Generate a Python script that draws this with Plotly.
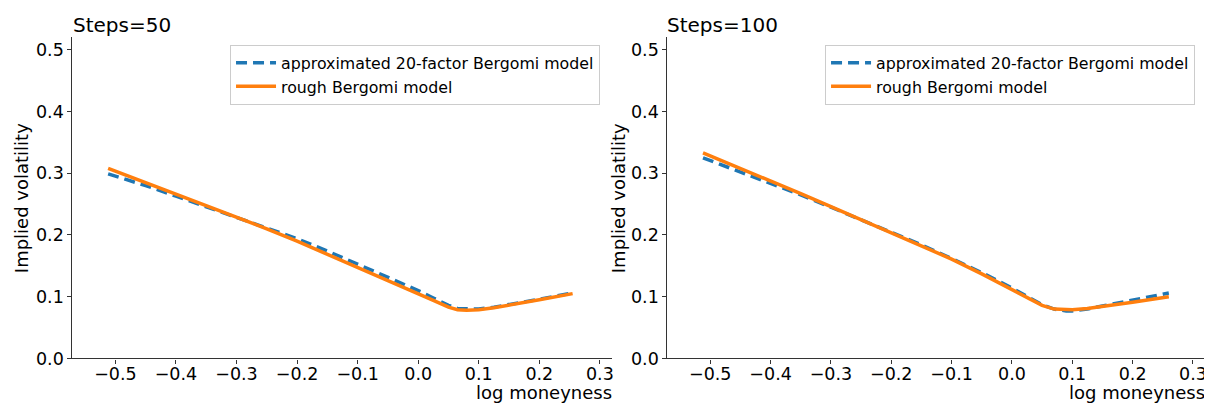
import plotly.graph_objects as go

# ---------------- data ----------------
x_left = [-0.512, -0.45, -0.4, -0.35, -0.3, -0.25, -0.2, -0.15, -0.1, -0.05,
          0.0, 0.025, 0.05, 0.065, 0.08, 0.1, 0.125, 0.15, 0.2, 0.255]
approx_left = [0.299, 0.280, 0.263, 0.246, 0.229, 0.212, 0.194, 0.174, 0.153, 0.132,
               0.110, 0.098, 0.086, 0.081, 0.080, 0.080, 0.083, 0.087, 0.096, 0.106]
rough_left = [0.308, 0.285, 0.267, 0.248, 0.229, 0.210, 0.190, 0.169, 0.148, 0.127,
              0.105, 0.094, 0.083, 0.079, 0.078, 0.079, 0.082, 0.086, 0.095, 0.105]

x_right = [-0.512, -0.45, -0.4, -0.35, -0.3, -0.25, -0.2, -0.15, -0.1, -0.05,
           0.0, 0.025, 0.05, 0.07, 0.09, 0.1, 0.125, 0.15, 0.2, 0.26]
approx_right = [0.325, 0.302, 0.284, 0.265, 0.245, 0.225, 0.205, 0.184, 0.162, 0.139,
                0.114, 0.100, 0.087, 0.080, 0.077, 0.077, 0.080, 0.085, 0.094, 0.106]
rough_right = [0.333, 0.308, 0.288, 0.267, 0.246, 0.225, 0.204, 0.183, 0.161, 0.137,
               0.112, 0.098, 0.086, 0.080, 0.079, 0.079, 0.081, 0.084, 0.091, 0.100]

x_tick_vals = [-0.5, -0.4, -0.3, -0.2, -0.1, 0.0, 0.1, 0.2, 0.3]
x_tick_text = ["\u22120.5", "\u22120.4", "\u22120.3", "\u22120.2", "\u22120.1",
               "0.0", "0.1", "0.2", "0.3"]
y_tick_vals = [0.0, 0.1, 0.2, 0.3, 0.4, 0.5]
y_tick_text = ["0.0", "0.1", "0.2", "0.3", "0.4", "0.5"]

titles = ["Steps=50", "Steps=100"]
name_approx = "approximated 20-factor Bergomi model"
name_rough = "rough Bergomi model"

BLUE = "#1f77b4"
ORANGE = "#ff7f0e"
FONT = "DejaVu Sans"

W, H = 1212, 406


def px(x):
    return x / W


def py(y):
    return 1 - y / H


fig = go.Figure()

panels = [
    (x_left, approx_left, rough_left, "x", "y", "legend"),
    (x_right, approx_right, rough_right, "x2", "y2", "legend2"),
]
for xs, ya, yr, xa, ya_ax, leg in panels:
    fig.add_trace(go.Scatter(x=xs, y=ya, mode="lines", name=name_approx,
                             line=dict(color=BLUE, width=3.5, dash="11px,6px"),
                             xaxis=xa, yaxis=ya_ax, legend=leg))
    fig.add_trace(go.Scatter(x=xs, y=yr, mode="lines", name=name_rough,
                             line=dict(color=ORANGE, width=3.5),
                             xaxis=xa, yaxis=ya_ax, legend=leg))

ydom = [py(359.3), py(30.2)]
xdom1 = [px(64.5), px(605)]
xdom2 = [px(660.5), px(1199)]

axis_common = dict(showline=True, linecolor="#333333", linewidth=1.2, mirror=False,
                   showgrid=False, zeroline=False, ticks="outside", ticklen=4,
                   tickwidth=1.2, tickcolor="#333333",
                   tickfont=dict(family=FONT, size=17.5, color="#000000"))

xr = [-0.571, 0.32]
yr_ = [0.0, 0.52]
legend_common = dict(xanchor="right", y=py(38), yanchor="top",
                     bgcolor="rgba(255,255,255,0.8)", bordercolor="#cccccc",
                     borderwidth=1, itemwidth=40,
                     font=dict(family=FONT, size=15.8, color="#000000"))
fig.update_layout(
    width=W, height=H,
    margin=dict(l=0, r=0, t=0, b=0),
    paper_bgcolor="white", plot_bgcolor="white",
    font=dict(family=FONT, color="#000000"),
    xaxis=dict(domain=xdom1, range=xr, tickvals=x_tick_vals, ticktext=x_tick_text,
               anchor="y", ticklabelstandoff=-5, **axis_common),
    yaxis=dict(domain=ydom, range=yr_, tickvals=y_tick_vals, ticktext=y_tick_text,
               anchor="x", **axis_common),
    xaxis2=dict(domain=xdom2, range=xr, tickvals=x_tick_vals, ticktext=x_tick_text,
                anchor="y2", ticklabelstandoff=-5, **axis_common),
    yaxis2=dict(domain=ydom, range=yr_, tickvals=y_tick_vals, ticktext=y_tick_text,
                anchor="x2", **axis_common),
    legend=dict(x=px(593), **legend_common),
    legend2=dict(x=px(1189), **legend_common),
    showlegend=True,
)

annots = []
for t, xl in zip(titles, (65, 660)):
    annots.append(dict(text=t, x=px(xl - 2), y=py(17), xref="paper", yref="paper",
                       xanchor="left", yanchor="middle", showarrow=False,
                       font=dict(family=FONT, size=20, color="#000000")))
for xr_px in (605, 1199):
    annots.append(dict(text="log moneyness", x=px(xr_px + 2), y=py(394.5), xref="paper",
                       yref="paper", xanchor="right", yanchor="middle", showarrow=False,
                       font=dict(family=FONT, size=18, color="#000000")))
for xc_px in (13, 611):
    annots.append(dict(text="Implied volatility", x=px(xc_px), y=py(195),
                       xref="paper", yref="paper", xanchor="center", yanchor="middle",
                       textangle=-90, showarrow=False,
                       font=dict(family=FONT, size=18, color="#000000")))
fig.update_layout(annotations=annots)

# the reference image is cropped at its very left edge
fig.add_shape(type="rect", xref="paper", yref="paper", x0=0, x1=px(8), y0=0, y1=1,
              fillcolor="white", line=dict(width=0), layer="above")

fig.write_html("out.html")
